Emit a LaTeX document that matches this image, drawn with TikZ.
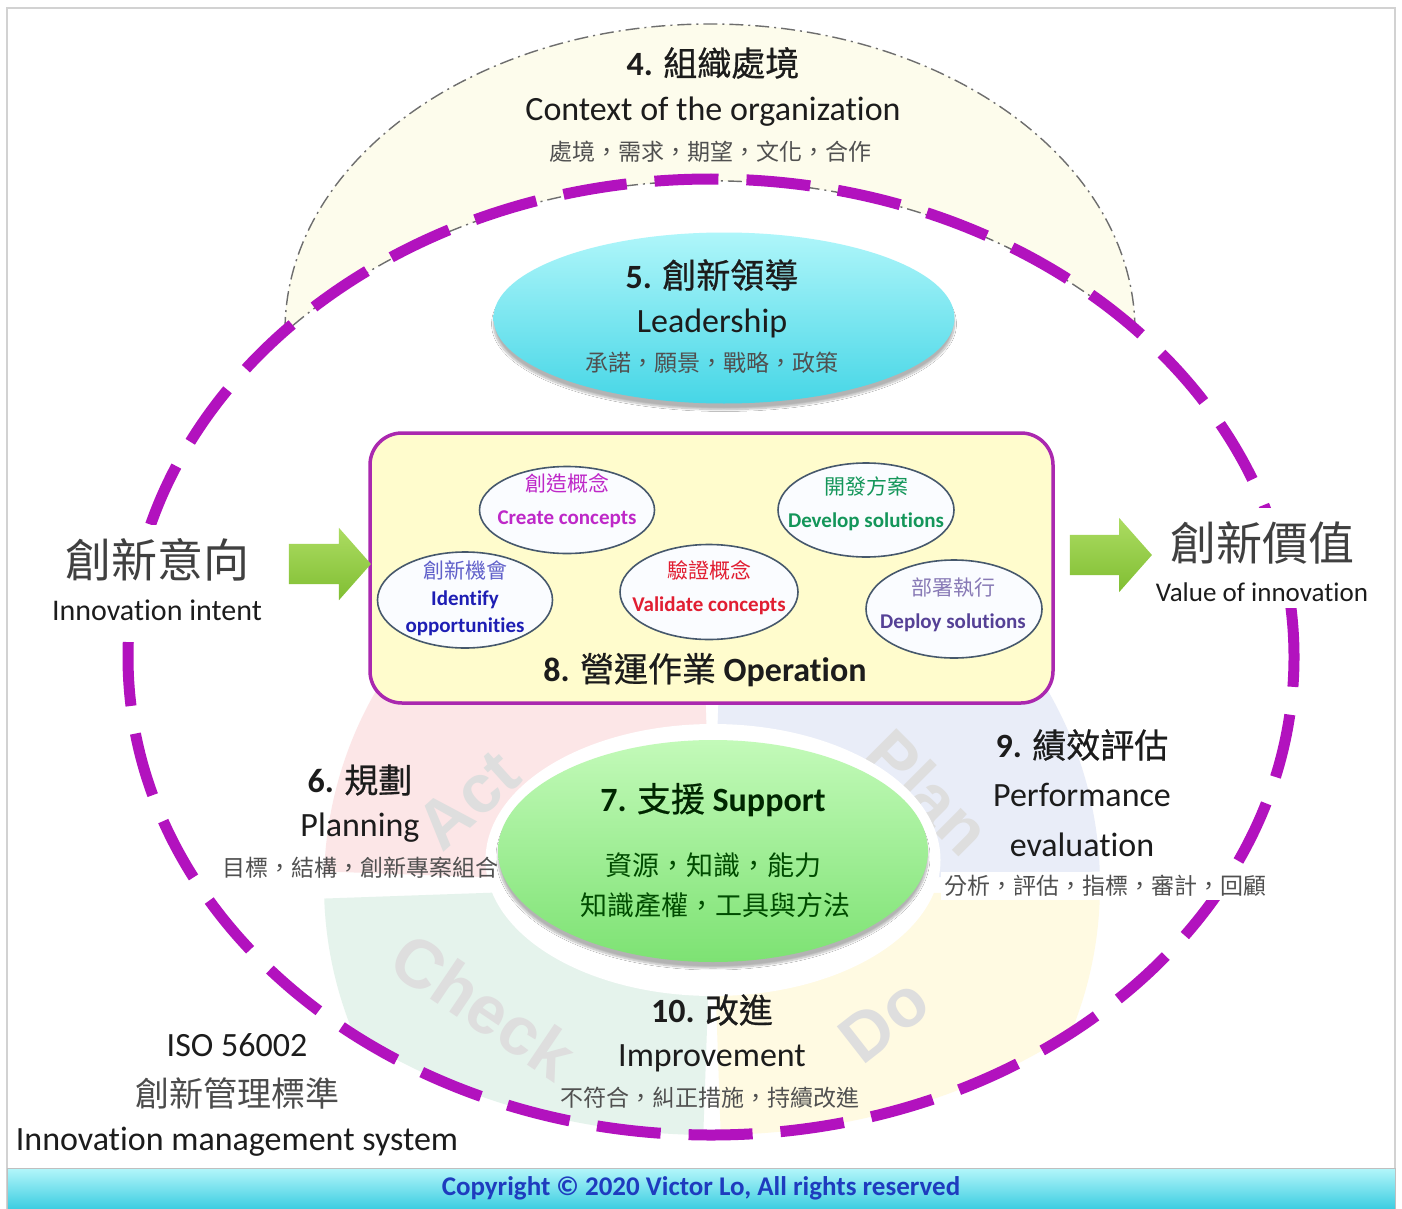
\documentclass[tikz,border=0pt]{standalone}
\usepackage{fontspec}
\setmainfont[Ligatures=NoCommon]{Carlito}
\newfontfamily\zhfont{Noto Sans CJK TC}
\newfontfamily\zhhd[FakeBold=0.6]{Noto Sans CJK TC}
\newfontfamily\pdfont{Liberation Sans}
\usetikzlibrary{shapes.geometric,shapes.arrows,shadows.blur}

\definecolor{txt}{RGB}{28,28,28}
\definecolor{subtxt}{RGB}{80,80,80}
\definecolor{imsmag}{RGB}{178,18,190}
\definecolor{ctxfill}{RGB}{253,252,236}
\definecolor{ctxline}{RGB}{110,110,110}
\definecolor{ldtop}{RGB}{175,246,250}
\definecolor{ldbot}{RGB}{70,214,230}
\definecolor{sptop}{RGB}{195,250,185}
\definecolor{spbot}{RGB}{125,226,115}
\definecolor{opfill}{RGB}{255,252,205}
\definecolor{opline}{RGB}{170,40,175}
\definecolor{ellline}{RGB}{70,88,108}
\definecolor{ellfill}{RGB}{250,252,255}
\definecolor{argtop}{RGB}{172,220,98}
\definecolor{argbot}{RGB}{128,190,50}
\definecolor{pdact}{RGB}{252,230,231}
\definecolor{pdplan}{RGB}{233,237,248}
\definecolor{pdcheck}{RGB}{229,243,236}
\definecolor{pddo}{RGB}{255,250,226}
\definecolor{pdtxt}{RGB}{222,222,222}
\definecolor{crecol}{RGB}{190,40,200}
\definecolor{devcol}{RGB}{20,150,90}
\definecolor{idfcol}{RGB}{30,30,180}
\definecolor{valcol}{RGB}{225,30,50}
\definecolor{dplcol}{RGB}{85,65,150}
\definecolor{bartop}{RGB}{180,246,250}
\definecolor{barbot}{RGB}{60,205,225}
\definecolor{copyblue}{RGB}{30,60,190}

\newcommand{\zh}[1]{{\zhfont\mdseries #1}}
\newcommand{\zhh}[1]{{\zhhd\mdseries #1}}

\begin{document}
\begin{tikzpicture}[x=1pt,y=-1pt,
    every node/.style={inner sep=0pt,text=txt},
    hd/.style={font=\fontsize{34}{40}\selectfont\bfseries},
    en/.style={font=\fontsize{34}{40}\selectfont},
    sub/.style={font=\fontsize{23}{28}\selectfont\zhfont,text=subtxt},
    ctx/.style={fill=ctxfill,draw=ctxline,line width=1.4pt,dash pattern=on 14pt off 5pt on 2pt off 5pt},
    ring/.style={ellipse,draw=imsmag,line width=11pt,dash pattern=on 64pt off 28pt,
        minimum width=1166pt,minimum height=956pt},
    opbox/.style={rectangle,rounded corners=32pt,draw=opline,line width=3.5pt,fill=opfill,
        minimum width=683pt,minimum height=270pt},
    opell/.style={ellipse,draw=ellline,line width=1.6pt,fill=ellfill},
    optxt/.style={font=\fontsize{21}{33}\selectfont\bfseries,align=center},
    garrow/.style={single arrow,single arrow head extend=16pt,single arrow tip angle=97,
        inner xsep=0pt,inner ysep=20pt,minimum height=82pt,top color=argtop,bottom color=argbot},
    pdword/.style={font=\fontsize{68}{68}\selectfont\pdfont\bfseries,text=pdtxt},
    soft/.style={blur shadow={shadow blur steps=10,shadow xshift=0pt,shadow yshift=-6pt,shadow opacity=30}}]

\useasboundingbox (0,0) rectangle (1402,1209);
\fill[white] (0,0) rectangle (1402,1209);
\draw[gray!35,line width=1.5pt] (7,8) rectangle (1395,1209);

\path[ctx] (285,331) arc[start angle=180,end angle=0,x radius=425pt,y radius=307pt]
    arc[start angle=43.3,end angle=137,x radius=583pt,y radius=478pt] -- cycle;

\begin{scope}
    \clip (711,657) ellipse [x radius=583pt,y radius=478pt];
    \foreach \a/\c in {2/pdplan,92/pdact,182/pdcheck,272/pddo}
        \fill[\c] (712,885) -- ++(\a:388pt) arc[start angle=\a,delta angle=86,radius=388pt] -- cycle;
\end{scope}
\node[pdword,rotate=42] (act) at (468,800) {Act};
\node[pdword,rotate=-45] (plan) at (928,792) {Plan};
\node[pdword,rotate=-34] (chk) at (484,1006) {Check};
\node[pdword,rotate=38] (do) at (884,1020) {Do};

\node[ring] (ims) at (711,657) {};

\node[ellipse,minimum width=461pt,minimum height=171pt,top color=ldtop,bottom color=ldbot,soft] (ld) at (724,318) {};

\node[opbox] (op) at (711.5,568) {};
\foreach \n/\x/\y/\w/\h in {cre/567/510/175/87,dev/866/510/176/94,idf/465/600/175/96,val/709/592/178/95,dpl/954/609/176/98}
    \node[opell,minimum width=\w pt,minimum height=\h pt] (\n) at (\x,\y) {};
\node[optxt,text=crecol] (cretx) at (567,501) {\zh{創造概念}\\Create concepts};
\node[optxt,text=devcol] (devtx) at (866,504) {\zh{開發方案}\\Develop solutions};
\node[optxt,text=idfcol,font=\fontsize{21}{27}\selectfont\bfseries] (idftx) at (465,598) {{\color{idfcol!70}\zh{創新機會}}\\Identify\\opportunities};
\node[optxt,text=valcol] (valtx) at (709,588) {\zh{驗證概念}\\Validate concepts};
\node[optxt,text=dplcol] (dpltx) at (953,605) {{\color{dplcol!70}\zh{部署執行}}\\Deploy solutions};
\node[hd] (optx) at (705,670) {8. \zhh{營運作業} Operation};

\node[ellipse,fill=white,minimum width=455pt,minimum height=272pt] (sphalo) at (713,860) {};
\node[ellipse,minimum width=430pt,minimum height=222pt,top color=sptop,bottom color=spbot,soft] (sp) at (713,851) {};

\node[hd] (ctxhd) at (713,63) {4. \zhh{組織處境}};
\node[en] (ctxen) at (713,112) {Context of the organization};
\node[sub] (ctxzh) at (710,152) {處境，需求，期望，文化，合作};

\node[hd] (ldhd) at (712,275) {5. \zhh{創新領導}};
\node[en] (lden) at (712,323) {Leadership};
\node[sub] (ldzh) at (712,363) {承諾，願景，戰略，政策};

\node[hd] (plhd) at (360,780) {6. \zhh{規劃}};
\node[en] (plen) at (360,828) {Planning};
\node[sub] (plzh) at (360,868) {目標，結構，創新專案組合};

\node[hd,text=black!85!green] (sphd) at (713,800) {7. \zhh{支援} Support};
\node[sub,font=\fontsize{27}{32}\selectfont\zhfont,text=black!70!green] (spzh1) at (713,865) {資源，知識，能力};
\node[sub,font=\fontsize{27}{32}\selectfont\zhfont,text=black!70!green] (spzh2) at (715,905) {知識產權，工具與方法};

\node[hd] (pfhd) at (1082,745) {9. \zhh{績效評估}};
\node[en] (pfen1) at (1082,795) {Performance};
\node[en] (pfen2) at (1082,845) {evaluation};
\node[sub,fill=white,inner sep=3pt] (pfzh) at (1105,886) {分析，評估，指標，審計，回顧};

\node[hd] (imhd) at (712,1010) {10. \zhh{改進}};
\node[en] (imen) at (712,1058) {Improvement};
\node[sub] (imzh) at (710,1098) {不符合，糾正措施，持續改進};

\node[font=\fontsize{46}{52}\selectfont\zhfont,text=black!75,fill=white,inner xsep=5pt,inner ysep=14pt] (inzh) at (157,560) {創新意向};
\node[font=\fontsize{30}{36}\selectfont,fill=white,inner xsep=5pt,inner ysep=7pt] (inen) at (157,610) {Innovation intent};
\node[font=\fontsize{46}{52}\selectfont\zhfont,text=black!75,fill=white,inner xsep=5pt,inner ysep=14pt] (vazh) at (1262,543) {創新價值};
\node[font=\fontsize{27}{32}\selectfont,fill=white,inner xsep=5pt,inner ysep=7pt] (vaen) at (1262,592) {Value of innovation};

\node[garrow] (arin) at (321,564) {};
\node[garrow,single arrow head extend=17pt] (arout) at (1102,555) {};

\node[en] (isoen) at (237,1045) {ISO 56002};
\node[font=\fontsize{34}{40}\selectfont\zhfont,text=black!70] (isozh) at (237,1093) {創新管理標準};
\node[en] (isosys) at (237,1142) {Innovation management system};

\node[rectangle,minimum width=1388pt,minimum height=41pt,top color=bartop,bottom color=barbot,draw=gray!50,
    font=\fontsize{27}{32}\selectfont\bfseries,text=copyblue] (cpy) at (701,1188.5) {Copyright \textcopyright{} 2020 Victor Lo, All rights reserved};
\end{tikzpicture}
\end{document}
